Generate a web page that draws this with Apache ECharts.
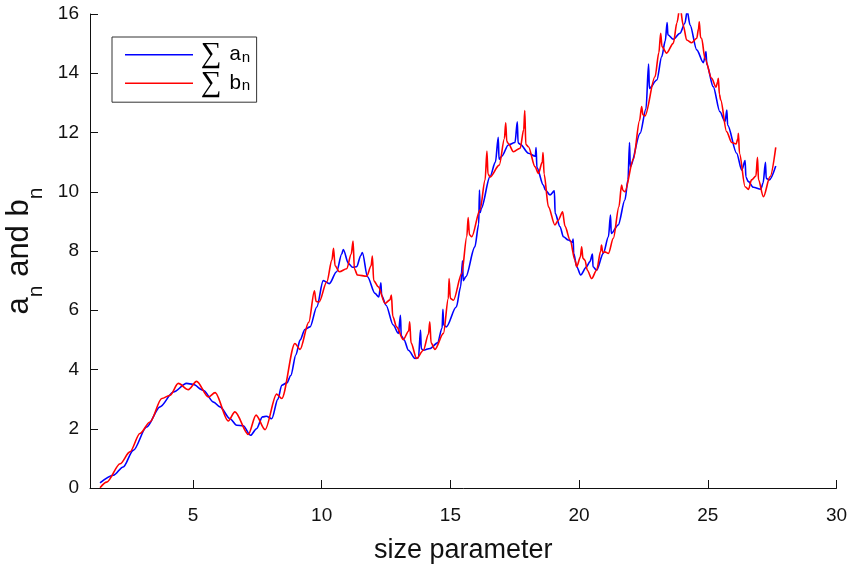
<!DOCTYPE html>
<html>
<head>
<meta charset="utf-8">
<script src="https://cdn.jsdelivr.net/npm/echarts@6/dist/echarts.min.js"></script>
<style>
  html, body { margin: 0; padding: 0; background: #fff; }
  #chart { width: 851px; height: 566px; }
</style>
</head>
<body>
<div id="chart"></div>
<script>
// Running sums of the Mie coefficients a_n and b_n against size parameter
const sizeA = [1.39,1.91,2.29,2.68,3.2,3.72,4.24,4.75,5.0,5.4,5.8,6.05,6.44,6.7,6.95,7.24,7.47,7.7,7.85,8.06,8.3,8.45,8.65,8.8,9.0,9.16,9.35,9.55,9.81,10.06,10.3,10.58,10.78,10.84,11.04,11.2,11.36,11.52,11.58,11.78,12.07,12.22,12.3,12.33,12.5,12.78,12.98,13.06,13.09,13.2,13.37,13.63,13.76,13.84,13.87,13.95,14.21,14.5,14.68,14.71,14.74,14.84,15.23,15.4,15.47,15.5,15.6,15.95,16.1,16.13,16.16,16.2,16.54,16.75,16.86,16.89,17.0,17.25,17.51,17.6,17.63,17.72,18.03,18.3,18.33,18.36,18.61,18.69,18.87,19.04,19.07,19.26,19.39,19.58,19.74,19.77,19.79,19.91,20.06,20.29,20.42,20.52,20.54,20.68,20.94,21.14,21.22,21.25,21.52,21.78,21.9,21.96,21.99,22.37,22.6,22.7,22.73,23.02,23.21,23.35,23.42,23.45,23.66,23.92,24.11,24.2,24.31,24.57,24.83,24.93,24.96,25.21,25.47,25.67,25.74,25.77,26.12,26.32,26.45,26.48,26.57,26.77,27.06,27.15,27.24,27.27,27.39,27.64];
const sumA = [0.17,0.43,0.71,1.27,2.06,2.74,3.24,3.53,3.5,3.3,2.9,2.74,2.34,2.12,2.1,1.78,2.0,2.4,2.42,2.34,3.0,3.47,3.55,3.8,4.5,4.99,5.35,5.44,6.11,7.0,6.9,7.3,7.9,8.05,7.58,7.45,7.47,7.85,7.95,7.13,6.57,6.45,6.93,6.5,6.17,5.5,5.22,5.83,5.15,5.0,4.65,4.37,4.4,5.33,4.7,4.65,4.71,4.9,5.4,6.03,5.5,5.44,6.11,6.8,7.67,7.0,7.13,8.14,8.9,10.06,9.3,9.44,10.51,11.0,11.84,11.1,11.2,11.58,11.66,12.36,11.65,11.6,11.3,11.2,11.49,10.82,10.23,10.06,9.89,10.03,9.27,8.82,8.48,8.37,8.3,8.4,7.92,7.47,7.19,7.47,7.64,7.9,7.47,7.35,7.92,8.48,9.21,8.59,8.88,9.72,10.4,11.66,10.84,11.97,12.8,14.31,13.49,13.77,14.56,15.1,15.71,15.3,15.15,15.35,15.69,16.1,15.63,14.79,14.36,14.73,14.3,13.55,12.7,12.37,12.76,12.25,11.3,10.73,11.05,10.5,10.35,10.15,10.09,10.3,10.99,10.45,10.4,10.87];

const sizeB = [1.39,1.65,2.17,2.55,2.94,3.33,3.79,4.11,4.43,4.82,5.14,5.6,5.86,6.37,6.63,7.15,7.45,7.8,8.25,8.45,8.96,9.16,9.5,9.72,9.78,9.9,10.2,10.4,10.46,10.52,10.69,10.97,11.15,11.22,11.27,11.39,11.75,11.92,11.97,12.02,12.2,12.46,12.65,12.71,12.76,12.91,13.17,13.38,13.42,13.47,13.69,13.95,14.15,14.2,14.25,14.4,14.73,14.92,14.95,15.0,15.12,15.44,15.64,15.69,15.74,15.83,16.15,16.35,16.42,16.46,16.54,16.9,17.1,17.15,17.19,17.25,17.45,17.71,17.85,17.89,17.93,18.03,18.29,18.42,18.57,18.6,18.64,18.81,19.06,19.19,19.36,19.45,19.65,19.84,19.91,20.05,20.1,20.15,20.23,20.32,20.49,20.68,20.84,20.87,20.92,21.0,21.14,21.33,21.55,21.65,21.7,21.78,22.11,22.35,22.43,22.48,22.56,22.95,23.1,23.17,23.22,23.4,23.66,23.8,23.92,24.05,24.18,24.37,24.57,24.64,24.67,24.72,24.76,24.89,25.15,25.32,25.38,25.41,25.45,25.5,25.73,25.93,26.1,26.17,26.19,26.23,26.45,26.58,26.7,26.87,26.93,26.97,27.16,27.42,27.64];
const sumB = [0.01,0.2,0.82,1.22,1.84,2.23,3.02,3.13,3.53,3.32,3.6,3.07,3.22,2.26,2.57,1.81,2.46,1.97,3.17,3.02,4.88,4.68,5.6,6.66,6.3,6.28,6.96,7.7,8.09,7.5,7.3,7.4,7.9,8.34,7.4,7.19,7.15,7.5,7.83,7.0,6.79,6.23,6.35,6.51,5.8,5.44,5.01,5.3,5.61,4.9,4.37,4.65,5.2,5.61,4.9,4.68,5.22,6.4,7.07,6.4,6.34,7.24,8.5,9.13,8.55,8.48,9.38,10.4,11.37,10.6,10.5,10.9,11.8,12.33,11.7,11.63,11.35,11.47,12.1,12.74,11.6,11.52,10.84,10.62,11.0,11.32,10.6,9.49,8.88,9.04,9.32,8.84,8.37,7.69,7.47,7.8,8.14,7.75,7.69,7.35,7.07,7.35,8.0,8.2,7.95,7.97,7.92,8.43,9.5,10.23,10.05,10.0,11.1,12.4,12.88,12.6,12.56,13.88,14.7,15.35,14.9,14.68,15.01,15.7,16.25,15.6,15.12,15.03,15.18,15.5,15.74,15.2,15.18,14.5,13.83,13.53,13.7,13.83,13.3,13.1,12.03,11.66,11.61,11.8,11.97,11.3,10.17,10.08,10.4,10.53,11.16,10.4,9.83,10.51,11.5];

const xTicks = [5, 10, 15, 20, 25, 30];
const yTicks = [0, 2, 4, 6, 8, 10, 12, 14, 16];

const pairs = (xs, ys) => xs.map((x, i) => [x, ys[i]]);

const SANS = '"Liberation Sans", Arial, sans-serif';
const SERIF = '"Liberation Serif", "DejaVu Serif", serif';
const MONO = '"Liberation Mono", "DejaVu Sans Mono", monospace';
const INK = '#111';

const chart = echarts.init(document.getElementById('chart'), null, { renderer: 'canvas' });

const axisCommon = {
  axisLine: { show: true, lineStyle: { color: INK, width: 1 } },
  axisTick: { show: true, inside: true, length: 8, lineStyle: { color: INK, width: 1 } },
  splitLine: { show: false },
  axisLabel: { color: INK, fontFamily: SANS, fontSize: 19 }
};

chart.setOption({
  animation: false,
  backgroundColor: '#fff',
  grid: { left: 90, right: 14.5, top: 14, bottom: 78, containLabel: false, outerBoundsMode: 'none' },
  legend: {
    left: 112, top: 37,
    orient: 'vertical',
    icon: 'rect',
    itemWidth: 68, itemHeight: 1.6, itemGap: -0.5,
    padding: [3.2, 6, 4.5, 13],
    borderColor: '#333', borderWidth: 1,
    backgroundColor: '#fff',
    selectedMode: false,
    data: ['sumA', 'sumB'],
    formatter: name => name === 'sumA' ? '{sig|∑} {t|a}{s|n}' : '{sig|∑} {t|b}{s|n}',
    textStyle: {
      color: '#000',
      padding: [0, 0, 0, 3],
      rich: {
        sig: { fontFamily: SERIF, fontSize: 29, lineHeight: 22, color: '#000' },
        t: { fontFamily: MONO, fontSize: 21, lineHeight: 22, padding: [0, 0, 0, 4], color: '#000' },
        s: { fontFamily: MONO, fontSize: 15, lineHeight: 16, padding: [6, 0, 0, 0], color: '#000' }
      }
    }
  },
  xAxis: Object.assign({}, axisCommon, {
    type: 'value', min: 1, max: 30,
    name: 'size parameter',
    nameLocation: 'middle', nameGap: 49,
    nameTextStyle: { color: INK, fontFamily: SANS, fontSize: 27 },
    axisTick: Object.assign({}, axisCommon.axisTick, { customValues: xTicks }),
    axisLabel: Object.assign({}, axisCommon.axisLabel, { margin: 18, customValues: xTicks })
  }),
  yAxis: Object.assign({}, axisCommon, {
    type: 'value', min: 0, max: 16, interval: 2,
    name: '{m|a}{s|n}{m| and b}{s|n}',
    nameLocation: 'middle', nameGap: 39, nameRotate: 90,
    nameTextStyle: {
      color: INK,
      rich: {
        m: { fontFamily: SANS, fontSize: 31, lineHeight: 32, verticalAlign: 'top', color: INK },
        s: { fontFamily: SANS, fontSize: 21, lineHeight: 21, padding: [22, 0, 0, 0], verticalAlign: 'top', color: INK }
      }
    },
    axisTick: Object.assign({}, axisCommon.axisTick, { customValues: yTicks }),
    axisLabel: Object.assign({}, axisCommon.axisLabel, { margin: 11, customValues: yTicks })
  }),
  series: [
    {
      name: 'sumA', type: 'line', data: pairs(sizeA, sumA),
      symbol: 'none', smooth: 0.3, smoothMonotone: 'x', clip: true,
      lineStyle: { color: '#0000ff', width: 1.6 }, itemStyle: { color: '#0000ff' }, z: 3
    },
    {
      name: 'sumB', type: 'line', data: pairs(sizeB, sumB),
      symbol: 'none', smooth: 0.3, smoothMonotone: 'x', clip: true,
      lineStyle: { color: '#ff0000', width: 1.6 }, itemStyle: { color: '#ff0000' }, z: 4
    }
  ]
});
</script>
</body>
</html>
